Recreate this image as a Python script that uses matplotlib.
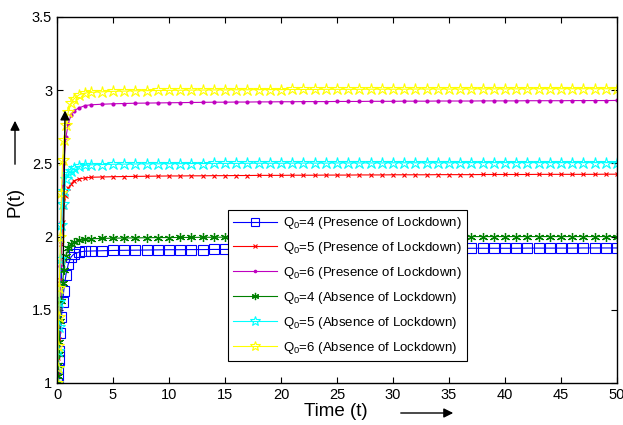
import numpy as np
import matplotlib.pyplot as plt
from matplotlib.patches import FancyArrowPatch

plt.rcParams['font.family'] = ['Liberation Sans', 'DejaVu Sans']
plt.rcParams['mathtext.fontset'] = 'custom'
plt.rcParams['mathtext.rm'] = 'Liberation Sans'

# tempos: parte inicial densa + patamar de 3 a 50
t_ini = [0, 0.05, 0.1, 0.15, 0.2, 0.3, 0.4, 0.5, 0.6, 0.8, 1.0, 1.25, 1.5, 2, 2.5]
t_fim = list(range(3, 51))
t = np.array(t_ini + t_fim, dtype=float)

# Q0=4 com lockdown (azul)
p4_lock = [1.0, 1.04, 1.1, 1.16, 1.22, 1.34, 1.45, 1.55, 1.63, 1.74, 1.81, 1.86, 1.88, 1.895, 1.90,
           1.901, 1.903, 1.905, 1.906, 1.907, 1.908, 1.909, 1.910, 1.910, 1.911, 1.911, 1.912, 1.912,
           1.913, 1.913, 1.914, 1.914, 1.915, 1.915, 1.915, 1.916, 1.916, 1.916, 1.917, 1.917, 1.917,
           1.918, 1.918, 1.918, 1.918, 1.919, 1.919, 1.919, 1.919, 1.920, 1.920, 1.920, 1.920, 1.920,
           1.921, 1.921, 1.921, 1.921, 1.921, 1.922, 1.922, 1.922, 1.922]
# Q0=5 com lockdown (vermelho)
p5_lock = [1.0, 1.07, 1.17, 1.3, 1.43, 1.7, 1.95, 2.1, 2.2, 2.28, 2.33, 2.36, 2.38, 2.395, 2.40,
           2.405, 2.407, 2.409, 2.410, 2.411, 2.412, 2.413, 2.414, 2.414, 2.415, 2.415, 2.416, 2.416,
           2.417, 2.417, 2.418, 2.418, 2.418, 2.419, 2.419, 2.419, 2.420, 2.420, 2.420, 2.421, 2.421,
           2.421, 2.422, 2.422, 2.422, 2.422, 2.423, 2.423, 2.423, 2.423, 2.424, 2.424, 2.424, 2.424,
           2.424, 2.425, 2.425, 2.425, 2.425, 2.425, 2.425, 2.426, 2.426]
# Q0=6 com lockdown (magenta)
p6_lock = [1.0, 1.08, 1.2, 1.35, 1.5, 1.8, 2.1, 2.35, 2.5, 2.68, 2.77, 2.83, 2.86, 2.88, 2.895,
           2.900, 2.904, 2.907, 2.909, 2.911, 2.912, 2.913, 2.914, 2.915, 2.916, 2.917, 2.918, 2.918,
           2.919, 2.919, 2.920, 2.920, 2.921, 2.921, 2.922, 2.922, 2.922, 2.923, 2.923, 2.923, 2.924,
           2.924, 2.924, 2.925, 2.925, 2.925, 2.926, 2.926, 2.926, 2.926, 2.927, 2.927, 2.927, 2.927,
           2.928, 2.928, 2.928, 2.928, 2.929, 2.929, 2.929, 2.929, 2.930]
# Q0=4 sem lockdown (verde)
p4_sem = [1.0, 1.05, 1.12, 1.2, 1.28, 1.42, 1.56, 1.68, 1.77, 1.87, 1.92, 1.95, 1.96, 1.975, 1.98,
          1.985, 1.987, 1.989, 1.990, 1.991, 1.992, 1.993, 1.993, 1.994, 1.994, 1.995, 1.995, 1.996,
          1.996, 1.996, 1.997, 1.997, 1.997, 1.997, 1.998, 1.998, 1.998, 1.998, 1.998, 1.999, 1.999,
          1.999, 1.999, 1.999, 1.999, 2.000, 2.000, 2.000, 2.000, 2.000, 2.000, 2.000, 2.000, 2.000,
          2.000, 2.000, 2.000, 2.000, 2.000, 2.000, 2.000, 2.000, 2.000]
# Q0=5 sem lockdown (ciano)
p5_sem = [1.0, 1.1, 1.22, 1.38, 1.55, 1.85, 2.08, 2.22, 2.31, 2.39, 2.43, 2.45, 2.465, 2.48, 2.487,
          2.490, 2.492, 2.494, 2.495, 2.496, 2.497, 2.497, 2.498, 2.498, 2.499, 2.499, 2.500, 2.500,
          2.500, 2.501, 2.501, 2.501, 2.501, 2.502, 2.502, 2.502, 2.502, 2.503, 2.503, 2.503, 2.503,
          2.503, 2.504, 2.504, 2.504, 2.504, 2.504, 2.504, 2.505, 2.505, 2.505, 2.505, 2.505, 2.505,
          2.505, 2.505, 2.505, 2.505, 2.505, 2.505, 2.505, 2.505, 2.505]
# Q0=6 sem lockdown (amarelo)
p6_sem = [1.0, 1.1, 1.25, 1.45, 1.65, 2.0, 2.3, 2.52, 2.66, 2.76, 2.85, 2.91, 2.94, 2.97, 2.98,
          2.985, 2.989, 2.992, 2.994, 2.996, 2.997, 2.998, 2.999, 3.000, 3.001, 3.001, 3.002, 3.002,
          3.003, 3.003, 3.004, 3.004, 3.004, 3.005, 3.005, 3.005, 3.006, 3.006, 3.006, 3.006, 3.007,
          3.007, 3.007, 3.007, 3.008, 3.008, 3.008, 3.008, 3.008, 3.009, 3.009, 3.009, 3.009, 3.009,
          3.009, 3.010, 3.010, 3.010, 3.010, 3.010, 3.010, 3.010, 3.010]

rotulos = ['Q$_0$=4 (Presence of Lockdown)', 'Q$_0$=5 (Presence of Lockdown)',
           'Q$_0$=6 (Presence of Lockdown)', 'Q$_0$=4 (Absence of Lockdown)',
           'Q$_0$=5 (Absence of Lockdown)', 'Q$_0$=6 (Absence of Lockdown)']

fig = plt.figure(figsize=(6.23, 4.25), dpi=100)
ax = fig.add_axes([0.0915, 0.099, 0.899, 0.861])

lw = 0.8
ax.plot(t, p4_lock, color=(0, 0, 1), lw=lw, marker='s', ms=6.5, mfc='none', mew=0.8, label=rotulos[0])
ax.plot(t, p5_lock, color=(1, 0, 0), lw=lw, marker='x', ms=3.5, mew=0.8, label=rotulos[1])
ax.plot(t, p6_lock, color=(0.75, 0, 0.75), lw=lw, marker='.', ms=4, label=rotulos[2])
ax.plot(t, p4_sem, color=(0, 0.5, 0), lw=lw, marker=(6, 2, 0), ms=6.5, mew=0.9, label=rotulos[3])
ax.plot(t, p5_sem, color=(0, 1, 1), lw=lw, marker='*', ms=9, mfc='none', mew=0.8, label=rotulos[4])
ax.plot(t, p6_sem, color=(1, 1, 0), lw=lw, marker='*', ms=9, mfc='none', mew=0.8, label=rotulos[5])

# seta preta sobre as curvas
ax.annotate('', xy=(0.72, 2.88), xytext=(0.55, 1.78),
            arrowprops=dict(arrowstyle='-|>', color='k', lw=1.0, mutation_scale=14))

ax.set_xlim(0, 50)
ax.set_ylim(1, 3.5)
ax.set_xticks(np.arange(0, 51, 5))
ax.set_yticks(np.arange(1, 3.51, 0.5))
ax.set_yticklabels(['1', '1.5', '2', '2.5', '3', '3.5'])
ax.tick_params(direction='in', top=True, right=True, labelsize=10.5, length=4)
for s in ax.spines.values():
    s.set_linewidth(1.0)

leg = ax.legend(loc='upper left', bbox_to_anchor=(0.305, 0.473), fontsize=9.5,
                fancybox=False, edgecolor='k', framealpha=1, handlelength=3.3,
                labelspacing=0.68, borderaxespad=0, handletextpad=0.5, markerscale=0.8)
leg.get_frame().set_linewidth(0.8)

# rótulos dos eixos com setas
fig.text(15 / 623, 1 - 202 / 425, 'P(t)', rotation=90, fontsize=13.5, ha='center', va='center')
fig.text(336 / 623, 1 - 411 / 425, 'Time (t)', fontsize=13.5, ha='center', va='center')
fig.add_artist(FancyArrowPatch(
    (15 / 623, 1 - 167 / 425), (15 / 623, 1 - 118 / 425), transform=fig.transFigure,
    arrowstyle='-|>', mutation_scale=14, color='k', lw=1.0))
fig.add_artist(FancyArrowPatch(
    (398 / 623, 1 - 413 / 425), (456 / 623, 1 - 413 / 425), transform=fig.transFigure,
    arrowstyle='-|>', mutation_scale=14, color='k', lw=1.0))

fig.savefig('out.png', dpi=100)
